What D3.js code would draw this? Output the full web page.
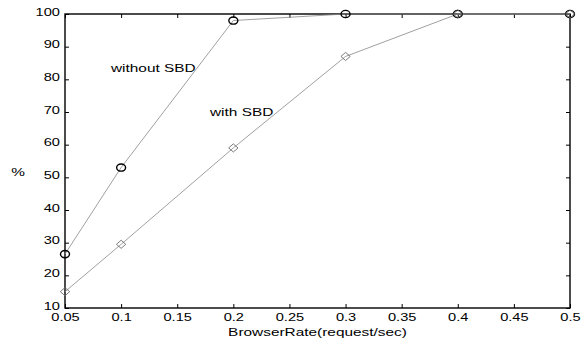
<!DOCTYPE html>
<html>
<head>
<meta charset="utf-8">
<script src="https://cdn.jsdelivr.net/npm/d3@7"></script>
<style>
body{margin:0;background:#fff;}
text{font-family:"Liberation Sans",Arial,sans-serif;font-size:11px;fill:#000;}
</style>
</head>
<body>
<div class="container"></div>
<script>
// data
var rates = [0.05, 0.1, 0.2, 0.3, 0.4, 0.5];
var withoutSBD = [26.5, 53, 98, 100, 100, 100];
var withSBD = [15, 29.5, 59, 87, 100, 100];
var xTicks = [0.05, 0.1, 0.15, 0.2, 0.25, 0.3, 0.35, 0.4, 0.45, 0.5];
var yTicks = [10, 20, 30, 40, 50, 60, 70, 80, 90, 100];

var W = 586, H = 340;
var m = {left: 65, right: 16, top: 14, bottom: 32};
var iw = W - m.left - m.right, ih = H - m.top - m.bottom;
var SX = 1.33; // the reference text is stretched sideways

var svg = d3.select(".container").append("svg")
	.attr("width", W).attr("height", H);
var g = svg.append("g").attr("transform", "translate(" + m.left + "," + m.top + ")");

var x = d3.scaleLinear().domain([0.05, 0.5]).range([0, iw]);
var y = d3.scaleLinear().domain([10, 100]).range([ih, 0]);

function styleAxis(a){
	a.select(".domain").remove();
	a.selectAll("line").attr("stroke", "#000");
	a.selectAll(".tick text")
		.style("font-family", "Liberation Sans, Arial, sans-serif").style("font-size", "11px")
		.each(function(){
			var t = d3.select(this);
			var tx = +t.attr("x") || 0, ty = +t.attr("y") || 0;
			t.attr("x", 0).attr("y", 0)
				.attr("transform", "translate(" + tx + "," + ty + ") scale(" + SX + ",1)");
		});
}
// bottom / left with labels, top / right ticks only (inward)
g.append("g").attr("transform", "translate(0," + ih + ")")
	.call(d3.axisBottom(x).tickValues(xTicks).tickSize(-4).tickPadding(5).tickFormat(d3.format("")))
	.call(styleAxis);
g.append("g")
	.call(d3.axisTop(x).tickValues(xTicks).tickSize(-4).tickFormat(""))
	.call(styleAxis);
g.append("g")
	.call(d3.axisLeft(y).tickValues(yTicks).tickSize(-4).tickPadding(5))
	.call(styleAxis)
	.selectAll(".tick text").attr("dy", "0.12em");
g.append("g").attr("transform", "translate(" + iw + ",0)")
	.call(d3.axisRight(y).tickValues(yTicks).tickSize(-4).tickFormat(""))
	.call(styleAxis);

g.append("rect").attr("width", iw).attr("height", ih)
	.attr("fill", "none").attr("stroke", "#000").attr("stroke-width", 1.4);

var line = d3.line().x(function(d){return x(d[0]);}).y(function(d){return y(d[1]);});
var s1 = rates.map(function(r, i){return [r, withoutSBD[i]];});
var s2 = rates.map(function(r, i){return [r, withSBD[i]];});

g.append("path").datum(s1).attr("d", line).attr("fill", "none").attr("stroke", "#888").attr("stroke-width", 0.8);
g.append("path").datum(s2).attr("d", line).attr("fill", "none").attr("stroke", "#888").attr("stroke-width", 0.8);

g.selectAll("ellipse.pt").data(s1).enter().append("ellipse")
	.attr("cx", function(d){return x(d[0]);}).attr("cy", function(d){return y(d[1]);})
	.attr("rx", 4.5).attr("ry", 3.6)
	.attr("fill", "none").attr("stroke", "#000").attr("stroke-width", 1.4);

var dia = d3.symbol().type(d3.symbolDiamond2).size(42);
g.selectAll("path.dia").data(s2).enter().append("path")
	.attr("transform", function(d){return "translate(" + x(d[0]) + "," + y(d[1]) + ") scale(1.15,1)";})
	.attr("d", dia).attr("fill", "none").attr("stroke", "#666").attr("stroke-width", 0.8);

function label(px, py, txt, anchor){
	svg.append("text").attr("text-anchor", anchor || "start")
		.attr("transform", "translate(" + px + "," + py + ") scale(1.4,1)")
		.text(txt);
}
label(111, 72, "without SBD");
label(210, 116, "with SBD");
label(18, 176, "%", "middle");
label(m.left + iw / 2, 336, "BrowserRate(request/sec)", "middle");
</script>
</body>
</html>
